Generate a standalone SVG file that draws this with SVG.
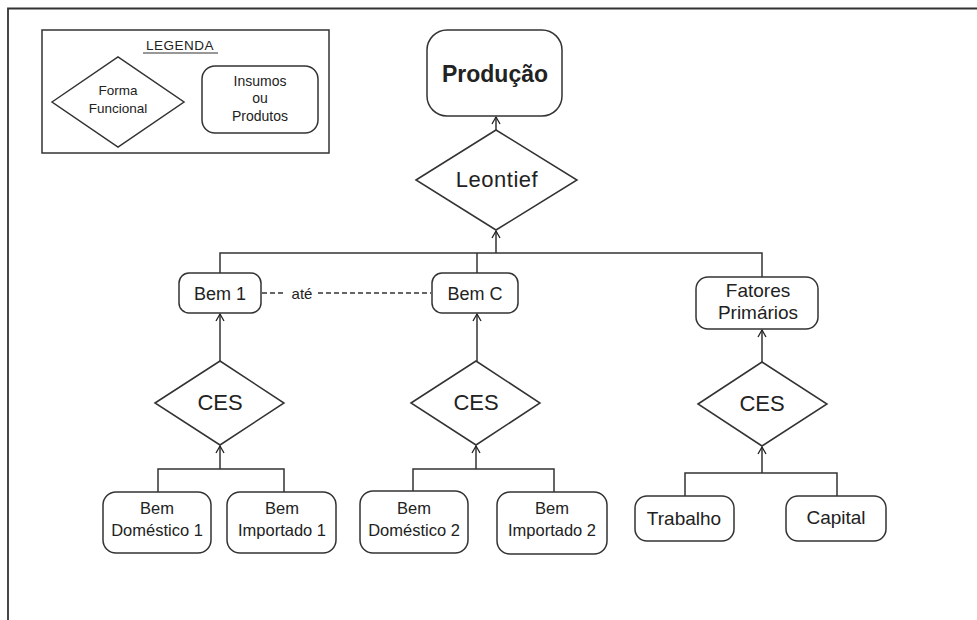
<svg xmlns="http://www.w3.org/2000/svg" width="977" height="620" viewBox="0 0 977 620">
<defs>
<marker id="arr" markerWidth="12" markerHeight="12" refX="8" refY="6" orient="auto" markerUnits="userSpaceOnUse" viewBox="0 0 12 12">
<path d="M1,2 L8,6 L1,10" fill="none" stroke="#222" stroke-width="1.3"/>
</marker>
<style>
.s{fill:#fff;stroke:#333;stroke-width:1.5}
.l{fill:none;stroke:#333;stroke-width:1.5}
.t{font-family:"Liberation Sans",Arial,sans-serif;fill:#222;text-anchor:middle}
</style>
</defs>
<rect width="977" height="620" fill="#fff"/>
<path d="M8,620 V8.5 H977" fill="none" stroke="#333" stroke-width="1.8"/>

<g id="legend">
<rect x="42" y="30" width="287" height="123" fill="#fff" stroke="#333" stroke-width="1.5"/>
<text class="t" x="180" y="50" font-size="13.5" letter-spacing="0.5">LEGENDA</text>
<line x1="143" y1="53" x2="218" y2="53" stroke="#333" stroke-width="1.2"/>
<polygon class="s" points="52,102 118,57 184,102 118,147"/>
<text class="t" x="118" y="95" font-size="13.5">Forma</text>
<text class="t" x="118" y="113" font-size="13.5">Funcional</text>
<rect class="s" x="202" y="66" width="116" height="67" rx="13"/>
<text class="t" x="260" y="86" font-size="14">Insumos</text>
<text class="t" x="260" y="103" font-size="14">ou</text>
<text class="t" x="260" y="121" font-size="14">Produtos</text>
</g>

<g id="connectors">
<line class="l" x1="496" y1="130" x2="496" y2="117" marker-end="url(#arr)"/>
<line class="l" x1="496" y1="253" x2="496" y2="231" marker-end="url(#arr)"/>
<polyline class="l" points="220,273 220,253 762,253 762,277"/>
<line class="l" x1="477" y1="253" x2="477" y2="273"/>
<line x1="262" y1="293" x2="285" y2="293" stroke="#333" stroke-width="1.3" stroke-dasharray="5,3"/>
<line x1="318" y1="293" x2="431" y2="293" stroke="#333" stroke-width="1.3" stroke-dasharray="5,3"/>
<line class="l" x1="220" y1="361" x2="220" y2="314" marker-end="url(#arr)"/>
<line class="l" x1="477" y1="361" x2="477" y2="314" marker-end="url(#arr)"/>
<line class="l" x1="762" y1="362" x2="762" y2="330" marker-end="url(#arr)"/>
<line class="l" x1="220" y1="469" x2="220" y2="446" marker-end="url(#arr)"/>
<polyline class="l" points="158,492 158,469 284,469 284,492"/>
<line class="l" x1="476" y1="469" x2="476" y2="446" marker-end="url(#arr)"/>
<polyline class="l" points="413,491 413,469 554,469 554,492"/>
<line class="l" x1="762" y1="473" x2="762" y2="447" marker-end="url(#arr)"/>
<polyline class="l" points="685,496 685,473 837,473 837,496"/>
</g>

<g id="producao">
<rect class="s" x="427" y="30" width="135" height="86" rx="20"/>
<text class="t" x="495" y="82" font-size="23" font-weight="bold">Produção</text>
</g>
<g id="leontief">
<polygon class="s" points="416,180 496,130 577,180 496,230"/>
<text class="t" x="497" y="187" font-size="22" letter-spacing="0.5">Leontief</text>
</g>
<g id="bem1">
<rect class="s" x="179" y="273" width="82" height="40" rx="10"/>
<text class="t" x="220" y="300" font-size="18">Bem 1</text>
</g>
<text class="t" x="302" y="299" font-size="15">até</text>
<g id="bemC">
<rect class="s" x="432" y="273" width="86" height="40" rx="10"/>
<text class="t" x="475" y="300" font-size="18">Bem C</text>
</g>
<g id="fatores">
<rect class="s" x="696" y="277" width="122" height="52" rx="12"/>
<text class="t" x="758" y="297" font-size="19">Fatores</text>
<text class="t" x="758" y="319" font-size="19">Primários</text>
</g>
<g id="ces1">
<polygon class="s" points="155,403 220,361 284,403 220,445"/>
<text class="t" x="220" y="410" font-size="22">CES</text>
</g>
<g id="ces2">
<polygon class="s" points="411,403 476,361 540,403 476,445"/>
<text class="t" x="476" y="410" font-size="22">CES</text>
</g>
<g id="ces3">
<polygon class="s" points="698,404 762,362 827,404 762,446"/>
<text class="t" x="762" y="411" font-size="22">CES</text>
</g>
<g id="bemDom1">
<rect class="s" x="103" y="492" width="108" height="61" rx="13"/>
<text class="t" x="157" y="514" font-size="16.5">Bem</text>
<text class="t" x="157" y="536" font-size="16.5">Doméstico 1</text>
</g>
<g id="bemImp1">
<rect class="s" x="227" y="492" width="109" height="61" rx="13"/>
<text class="t" x="282" y="514" font-size="16.5">Bem</text>
<text class="t" x="282" y="536" font-size="16.5">Importado 1</text>
</g>
<g id="bemDom2">
<rect class="s" x="360" y="491" width="108" height="62" rx="13"/>
<text class="t" x="414" y="514" font-size="16.5">Bem</text>
<text class="t" x="414" y="536" font-size="16.5">Doméstico 2</text>
</g>
<g id="bemImp2">
<rect class="s" x="497" y="492" width="110" height="62" rx="13"/>
<text class="t" x="552" y="514" font-size="16.5">Bem</text>
<text class="t" x="552" y="536" font-size="16.5">Importado 2</text>
</g>
<g id="trabalho">
<rect class="s" x="635" y="496" width="99" height="45" rx="12"/>
<text class="t" x="684" y="525" font-size="19">Trabalho</text>
</g>
<g id="capital">
<rect class="s" x="786" y="496" width="100" height="45" rx="12"/>
<text class="t" x="836" y="524" font-size="19">Capital</text>
</g>
</svg>
